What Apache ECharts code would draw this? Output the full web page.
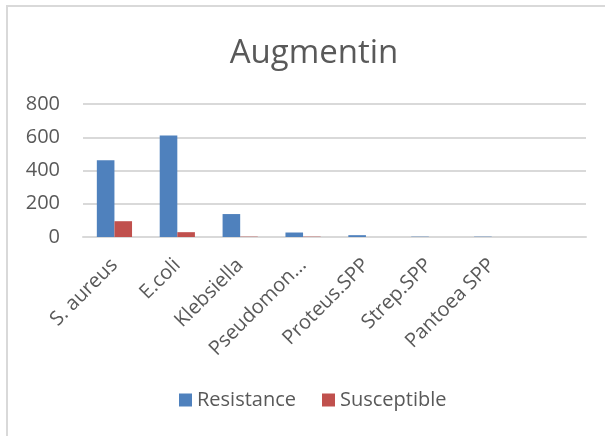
<!DOCTYPE html>
<html>
<head>
<meta charset="utf-8">
<script src="https://cdn.jsdelivr.net/npm/echarts@6/dist/echarts.min.js"></script>
<style>
  html, body { margin: 0; padding: 0; background: #fff; }
  #frame { position: absolute; left: 6px; top: 5px; width: 700px; height: 500px; border: 2px solid #d9d9d9; box-sizing: border-box; }
  #main { position: absolute; left: 0; top: 0; width: 605px; height: 436px; }
</style>
</head>
<body>
<div id="frame"></div>
<div id="main"></div>
<script>
// 数据
var categories = ['S. aureus', 'E.coli', 'Klebsiella', 'Pseudomon...', 'Proteus.SPP', 'Strep.SPP', 'Pantoea SPP', ''];
var resistance = [462, 611, 138, 27, 11, 2, 2, null];
var susceptible = [95, 29, 2, 2, 0, 0, 0, null];
var yTicks = [0, 200, 400, 600, 800];

var textColor = '#595959';
var font = '"Open Sans", sans-serif';

var option = {
    animation: false,
    title: {
        text: 'Augmentin',
        left: 309,
        top: 32,
        textAlign: 'center',
        textStyle: {
            fontFamily: font,
            fontSize: 33,
            fontWeight: 'normal',
            color: textColor
        }
    },
    legend: {
        left: 174,
        top: 385,
        itemWidth: 13,
        itemHeight: 13,
        itemGap: 26,
        textStyle: {
            fontFamily: font,
            fontSize: 20,
            color: textColor
        },
        data: [{ name: 'Resistance', icon: 'rect' }, { name: 'Susceptible', icon: 'rect' }]
    },
    grid: {
        left: 83,
        right: 19,
        top: 104,
        bottom: 199,
        containLabel: false
    },
    xAxis: {
        type: 'category',
        data: categories,
        axisTick: { show: false },
        axisLine: { lineStyle: { color: '#d9d9d9', width: 2 } },
        axisLabel: {
            rotate: 45,
            interval: 0,
            margin: 25,
            fontFamily: font,
            fontSize: 20,
            color: textColor
        }
    },
    yAxis: {
        type: 'value',
        min: yTicks[0],
        max: yTicks[yTicks.length - 1],
        interval: 200,
        axisLine: { show: false },
        axisTick: { show: false },
        splitLine: { lineStyle: { color: '#d9d9d9', width: 2 } },
        axisLabel: {
            margin: 23,
            fontFamily: font,
            fontSize: 20,
            color: textColor
        }
    },
    series: [{
        name: 'Resistance',
        type: 'bar',
        data: resistance,
        barGap: '0%',
        barCategoryGap: '44%',
        itemStyle: { color: '#4f81bd' }
    }, {
        name: 'Susceptible',
        type: 'bar',
        data: susceptible,
        itemStyle: { color: '#c0504d' }
    }]
};

var chart = echarts.init(document.getElementById('main'));
chart.setOption(option);
</script>
</body>
</html>
